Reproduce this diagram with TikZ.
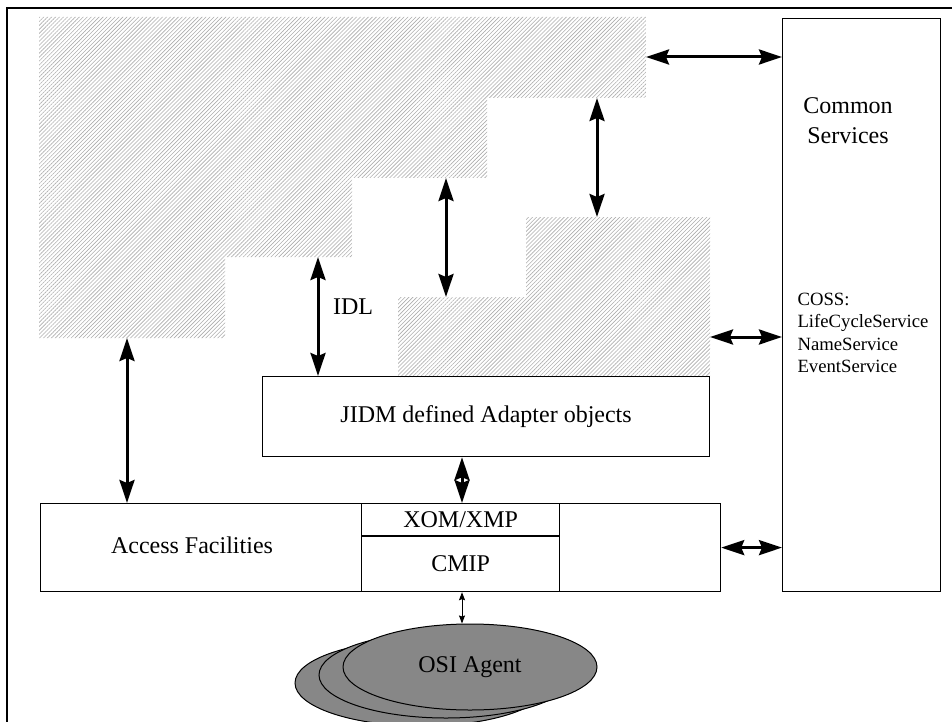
\documentclass[tikz,border=0pt]{standalone}
\usepackage{fontspec}
\setmainfont{Liberation Serif}
\usetikzlibrary{arrows.meta,patterns.meta,shapes.geometric}

\tikzset{
  hatched/.style={pattern={Lines[angle=45,distance=2.8pt,line width=0.6pt]},pattern color=black!32},
  box/.style={draw,line width=1.2pt,rectangle,inner sep=0pt,anchor=north west},
  big/.style={font=\fontsize{24}{30}\selectfont},
  small/.style={font=\fontsize{18.7}{22.3}\selectfont},
  bigarrow/.style={line width=3pt,{Stealth[length=23pt,width=15pt,inset=3pt]}-{Stealth[length=23pt,width=15pt,inset=3pt]}},
  thinarrow/.style={line width=1pt,{Stealth[length=8pt,width=6pt,inset=1pt]}-{Stealth[length=8pt,width=6pt,inset=1pt]}},
  agent/.style={draw,line width=1pt,fill=black!47,ellipse,minimum width=254pt,minimum height=86pt,inner sep=0pt}
}

\begin{document}
\begin{tikzpicture}[x=1pt,y=-1pt]
\useasboundingbox (0,0) rectangle (952,722);

% outer frame (only its top and left edges fall inside the page)
\draw[line width=2.5pt] (952,8) -- (7,8) -- (7,722);

% hatched application areas
\fill[hatched] (39,17) -- (646,17) -- (646,98) -- (487,98) -- (487,178)
  -- (352,178) -- (352,257) -- (225,257) -- (225,338) -- (39,338) -- cycle;
\fill[hatched] (526,217) -- (710,217) -- (710,377) -- (398,377) -- (398,297)
  -- (526,297) -- cycle;

% anchor points on the hatched areas
\coordinate (apR)   at (646,57);
\coordinate (apS1)  at (597,98);
\coordinate (apT2)  at (597,217);
\coordinate (apS2)  at (446,178);
\coordinate (apT3)  at (446,297);
\coordinate (apS3)  at (318,257);
\coordinate (apR2)  at (710,337);
\coordinate (apB)   at (127,338);

% boxes
\node[box,minimum width=158pt,minimum height=573pt] (cs) at (782,18) {};
\node[big,align=center] (cstext) at (848,121) {Common\\Services};
\node[small,align=left,anchor=west] (coss) at (794,333)
  {COSS:\\LifeCycleService\\NameService\\EventService};

\node[box,minimum width=447pt,minimum height=80pt] (jidm) at (262,376) {};
\node[big] (jidmtext) at (jidm.center) {JIDM defined Adapter objects};

\node[box,minimum width=680pt,minimum height=88pt] (access) at (40,503) {};
\node[big] (accesstext) at (192,545) {Access Facilities};

\node[box,minimum width=198pt,minimum height=32pt] (xom) at (361,503) {};
\node[box,minimum width=198pt,minimum height=56pt] (cmip) at (361,535) {};
\draw[line width=2pt] (xom.south west) -- (xom.south east);
\node[big] (xomtext) at (xom.center) {XOM/XMP};
\node[big] (cmiptext) at (cmip.center) {CMIP};

% stacked agents
\node[agent] (ag3) at (422,683) {};
\node[agent] (ag2) at (446,675) {};
\node[agent,big] (ag1) at (470,667) {OSI Agent};

% connectors
\draw[bigarrow] (apR) -- (cs.west |- apR);
\draw[bigarrow] (apS1) -- (apT2);
\draw[bigarrow] (apS2) -- (apT3);
\draw[bigarrow] (apS3) -- (jidm.north west -| apS3);
\draw[bigarrow] (apR2) -- (cs.west |- apR2);
\draw[bigarrow] (apB) -- (access.north west -| apB);
\draw[bigarrow] (jidm.south -| 462,0) -- (xom.north -| 462,0);
\draw[bigarrow] (access.east) -- (cs.west |- access.east);
\draw[thinarrow] (cmip.south -| 462,0) -- (ag1.north -| 462,0);

\node[big] (idl) at (353,307) {IDL};
\end{tikzpicture}
\end{document}
